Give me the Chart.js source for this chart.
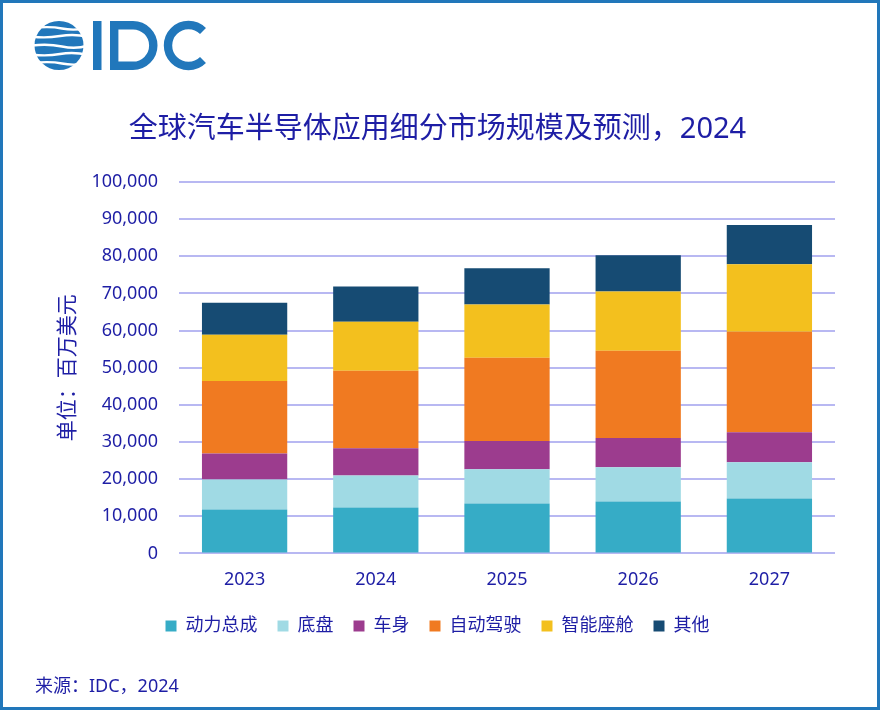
<!DOCTYPE html>
<html>
<head>
<meta charset="utf-8">
<script src="https://cdn.jsdelivr.net/npm/chart.js@4.4.1/dist/chart.umd.min.js"></script>
<style>
  html, body { margin: 0; padding: 0; background: #fff; }
  #wrap { position: relative; width: 880px; height: 710px; overflow: hidden; }
  #chartBox { position: absolute; left: 0; top: 0; width: 880px; height: 710px; }
  #frame { position: absolute; left: 0; top: 0; width: 880px; height: 710px;
           box-sizing: border-box; border: 3px solid #2177ba; pointer-events: none; }
  #logo { position: absolute; left: 0; top: 0; }
  #source { position: absolute; left: 35px; top: 671px; color: #1e1ea5;
            font: 18px 'Noto Sans', 'Noto Sans CJK SC', sans-serif; }
</style>
</head>
<body>
<div id="wrap">
  <div id="chartBox"><canvas id="segChart"></canvas></div>
  <svg id="logo" width="220" height="80" viewBox="0 0 220 80">
    <circle cx="59" cy="45.5" r="24.5" fill="#2177bb"/>
    <g stroke="#fff" stroke-width="2.4" fill="none">
      <path d="M32,28 Q50,26 62,28.5 T88,28"/>
      <path d="M32,36.5 Q45,38.5 60,36 T88,37"/>
      <path d="M32,45.5 Q48,43.5 62,46.5 T88,45.5"/>
      <path d="M32,54.5 Q46,56.5 60,54 T88,55"/>
      <path d="M32,63 Q50,61 62,63.5 T88,63"/>
    </g>
    <rect x="93" y="21" width="8.5" height="49" fill="#2177bb"/>
    <path d="M114.2,25.2 H133 A20.3,20.3 0 0 1 133,65.8 H114.2 Z" fill="none" stroke="#2177bb" stroke-width="8.4"/>
    <path d="M203,31 A20.5,20.5 0 1 0 203,60" fill="none" stroke="#2177bb" stroke-width="8.4"/>
  </svg>
  <div id="frame"></div>
  <div id="source">来源：IDC，2024</div>
</div>
<script>
// chart values (million USD)
const years = ['2023', '2024', '2025', '2026', '2027'];
const powertrain = [11800, 12350, 13450, 14000, 14800];
const chassis    = [8100, 8650, 9200, 9200, 9750];
const bodyElec   = [7000, 7300, 7600, 7850, 8100];
const adas       = [19500, 20850, 22450, 23500, 27050];
const cockpit    = [12450, 13250, 14350, 15950, 18150];
const others     = [8650, 9450, 9750, 9750, 10550];

const seriesNames = ['动力总成', '底盘', '车身', '自动驾驶', '智能座舱', '其他'];
const seriesColors = ['#36acc6', '#a0dae4', '#9c3c8e', '#f07a21', '#f3c01e', '#164b73'];
const seriesData = [powertrain, chassis, bodyElec, adas, cockpit, others];

const textBlue = '#1e1ea5';
const fontFamily = "'Noto Sans', 'Noto Sans CJK SC', sans-serif";

const ctx = document.getElementById('segChart').getContext('2d');
new Chart(ctx, {
    type: 'bar',
    data: {
        labels: years,
        datasets: seriesNames.map((name, i) => ({
            label: name,
            data: seriesData[i],
            backgroundColor: seriesColors[i],
            borderWidth: 0
        }))
    },
    options: {
        responsive: true,
        maintainAspectRatio: false,
        animation: false,
        layout: { padding: { top: 100, left: 40, right: 45, bottom: 65 } },
        datasets: { bar: { categoryPercentage: 1, barPercentage: 0.65 } },
        scales: {
            x: {
                stacked: true,
                grid: { display: false },
                border: { display: false },
                ticks: { color: textBlue, padding: 8, font: { family: fontFamily, size: 18 } },
                afterFit: (scale) => { scale.height -= 2; }
            },
            y: {
                stacked: true,
                min: 0,
                max: 100000,
                grid: { color: '#b8b8f2', lineWidth: 2, drawTicks: false },
                border: { display: false },
                ticks: {
                    stepSize: 10000,
                    padding: 21,
                    color: textBlue,
                    font: { family: fontFamily, size: 18 },
                    callback: (v) => v.toLocaleString('en-US')
                },
                title: {
                    display: true,
                    text: '单位：百万美元',
                    color: textBlue,
                    font: { family: fontFamily, size: 21 },
                    padding: { top: 15, bottom: 11 }
                },
                afterFit: (scale) => { scale.width = 139; }
            }
        },
        plugins: {
            title: {
                display: true,
                text: '全球汽车半导体应用细分市场规模及预测，2024',
                color: textBlue,
                font: { family: fontFamily, size: 29, weight: 'normal' },
                padding: { top: 12.6, bottom: 34.6 }
            },
            legend: {
                position: 'bottom',
                labels: {
                    color: textBlue,
                    font: { family: fontFamily, size: 18 },
                    boxWidth: 11,
                    boxHeight: 11,
                    padding: 20
                }
            },
            tooltip: { enabled: false }
        }
    }
});
</script>
</body>
</html>
